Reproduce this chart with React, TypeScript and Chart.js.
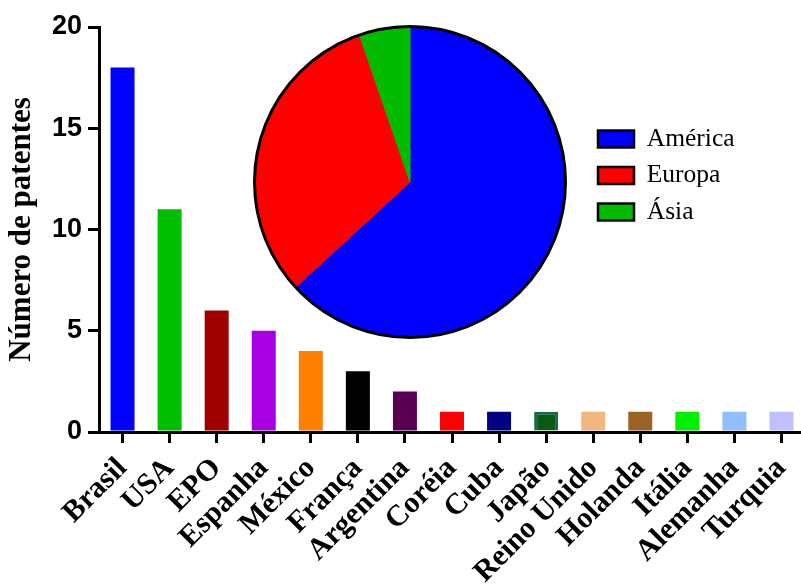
import React, { useEffect, useRef } from 'react';
import { Chart, registerables } from 'chart.js';

Chart.register(...registerables);

const categories = ['Brasil', 'USA', 'EPO', 'Espanha', 'México', 'França', 'Argentina', 'Coréia', 'Cuba', 'Japão', 'Reino Unido', 'Holanda', 'Itália', 'Alemanha', 'Turquia'];
const patents = [18, 11, 6, 5, 4, 3, 2, 1, 1, 1, 1, 1, 1, 1, 1];
const barColors = ['#0000ff', '#00bf00', '#a00000', '#a800e4', '#ff8000', '#000000', '#5a0052', '#ff0000', '#000080', '#0a5a12', '#f0b87e', '#9a6422', '#00f000', '#8fbfff', '#c0c0ff'];
const barBorderColors = ['#0000ff', '#00bf00', '#a00000', '#a800e4', '#ff8000', '#000000', '#5a0052', '#ff0000', '#000080', '#1a6b45', '#f0b87e', '#9a6422', '#00f000', '#8fbfff', '#c0c0ff'];
const barBorderWidths = [0, 0, 0, 0, 0, 0, 0, 0, 0, 3, 0, 0, 0, 0, 0];
const yTicks = [0, 5, 10, 15, 20];

const regions = ['América', 'Europa', 'Ásia'];
const regionTotals = [36, 18, 3];
const regionColors = ['#0000ff', '#ff0000', '#00bb00'];

const SERIF = '"Liberation Serif", "Times New Roman", Times, serif';
const SANS = '"Liberation Sans", Arial, Helvetica, sans-serif';

export default function App() {
  const barRef = useRef<HTMLCanvasElement>(null);
  const pieRef = useRef<HTMLCanvasElement>(null);

  useEffect(() => {
    const bar = new Chart(barRef.current!, {
      type: 'bar',
      data: {
        labels: categories,
        datasets: [{
          data: patents,
          backgroundColor: barColors,
          borderColor: barBorderColors,
          borderWidth: barBorderWidths,
          barPercentage: 0.51,
          categoryPercentage: 1,
        }],
      },
      options: {
        responsive: false,
        animation: false,
        devicePixelRatio: 1,
        layout: { padding: { top: 27, left: 0, right: 0, bottom: 0 } },
        plugins: { legend: { display: false }, tooltip: { enabled: false } },
        scales: {
          x: {
            offset: true,
            grid: { offset: false, drawOnChartArea: false, drawTicks: true, tickLength: 11, lineWidth: 3, color: '#000' },
            border: { display: true, width: 3, color: '#000' },
            ticks: {
              autoSkip: false, maxRotation: 45, minRotation: 45, padding: 8, color: '#000',
              font: { family: SERIF, size: 30, weight: 'bold' },
            },
            afterFit: (s: any) => { s.height = 156; s.paddingLeft = 0; s.paddingRight = 0; },
          },
          y: {
            min: 0, max: 20,
            afterBuildTicks: (s: any) => { s.ticks = yTicks.map((v) => ({ value: v })); },
            ticks: { padding: 6, color: '#000', font: { family: SANS, size: 27, weight: 'bold' } },
            grid: { drawOnChartArea: false, drawTicks: true, tickLength: 11, lineWidth: 3, color: '#000' },
            border: { display: true, width: 3, color: '#000' },
            title: {
              display: true, text: 'Número de patentes', color: '#000',
              font: { family: SERIF, size: 31, weight: 'bold', lineHeight: 1.2 },
              padding: { top: 3.4, bottom: 0 },
            },
            afterFit: (s: any) => { s.width = 99; },
          },
        },
      },
    } as any);

    const outline = {
      id: 'outline',
      afterDatasetsDraw(chart: any) {
        const arc = chart.getDatasetMeta(0).data[0];
        const ctx = chart.ctx;
        ctx.save();
        ctx.beginPath();
        ctx.arc(arc.x, arc.y, arc.outerRadius, 0, Math.PI * 2);
        ctx.lineWidth = 3;
        ctx.strokeStyle = '#000';
        ctx.stroke();
        ctx.restore();
      },
    };
    const place = {
      id: 'place',
      afterLayout(chart: any) {
        chart.chartArea = { left: 10, top: 10, right: 364, bottom: 322, width: 354, height: 312 };
        const lg = chart.legend;
        const dx = 364 - lg.left;
        lg.left += dx; lg.right += dx;
        lg.top = 10 - 6.5; lg.bottom = 322 - 6.5;
      },
    };

    const baseGen = (Chart as any).overrides.doughnut.plugins.legend.labels.generateLabels;
    const pie = new Chart(pieRef.current!, {
      type: 'pie',
      data: {
        labels: regions,
        datasets: [{ data: regionTotals, backgroundColor: regionColors, borderColor: regionColors, borderWidth: 1, clip: false }],
      },
      options: {
        responsive: false,
        animation: false,
        devicePixelRatio: 1,
        layout: { padding: 0 },
        plugins: {
          tooltip: { enabled: false },
          legend: {
            position: 'right',
            align: 'center',
            labels: {
              boxWidth: 36, boxHeight: 17, padding: 11, color: '#000',
              font: { family: SERIF, size: 25.5 },
              generateLabels: (chart: any) => baseGen(chart).map((l: any) => ({ ...l, lineWidth: 2.5, strokeStyle: '#000' })),
            },
          },
        },
      },
      plugins: [outline, place],
    } as any);

    return () => { bar.destroy(); pie.destroy(); };
  }, []);

  return (
    <div style={{ position: 'fixed', left: 0, top: 0, width: 801, height: 588, overflow: 'hidden', background: '#fff' }}>
      <canvas ref={barRef} width={805} height={588} style={{ position: 'absolute', left: 0, top: 0, width: 805, height: 588 }} />
      <canvas ref={pieRef} width={550} height={332} style={{ position: 'absolute', left: 223, top: 16, width: 550, height: 332 }} />
    </div>
  );
}
